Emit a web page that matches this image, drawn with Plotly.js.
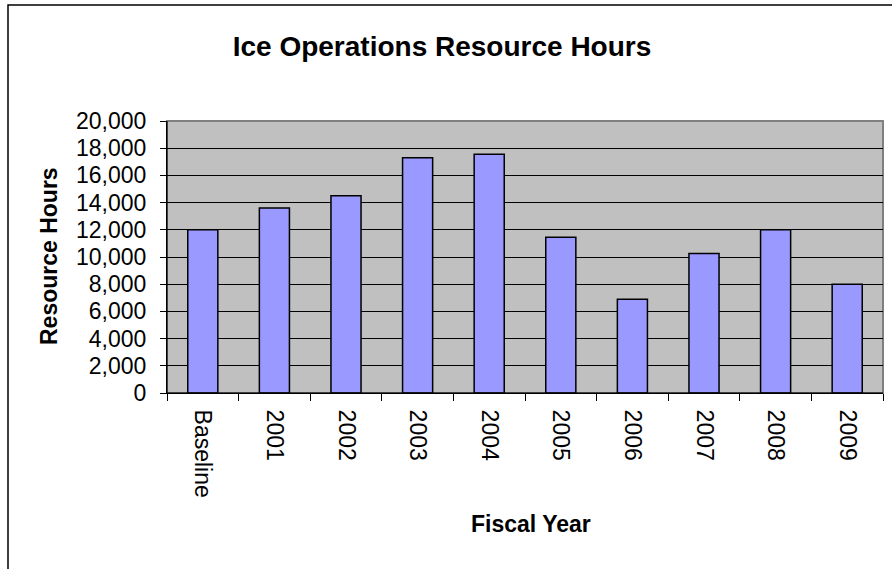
<!DOCTYPE html>
<html>
<head>
<meta charset="utf-8">
<script src="https://cdn.plot.ly/plotly-3.0.1.min.js"></script>
<style>html,body{margin:0;padding:0;background:#fff;}#chart{width:892px;height:569px;}</style>
</head>
<body>
<div id="chart"></div>
<script>
const categories = ["Baseline","2001","2002","2003","2004","2005","2006","2007","2008","2009"];
const hours = [12000, 13600, 14500, 17300, 17550, 11450, 6900, 10250, 12000, 8000];
const yTickVals = [0,2000,4000,6000,8000,10000,12000,14000,16000,18000,20000];
const yTickText = ["0","2,000","4,000","6,000","8,000","10,000","12,000","14,000","16,000","18,000","20,000"];

const FONT = "Liberation Sans, Arial, sans-serif";

const trace = {
  type: "bar",
  x: categories,
  y: hours,
  marker: {color: "#9999FF", line: {color: "#000000", width: 1.5}},
  hoverinfo: "x+y"
};

const PW = 892 - 167 - 9, PH = 569 - 121 - 176;

const layout = {
  width: 892, height: 569,
  margin: {l: 167, r: 9, t: 121, b: 176, pad: 0},
  paper_bgcolor: "#FFFFFF",
  plot_bgcolor: "#C0C0C0",
  showlegend: false,
  bargap: 0.58,
  font: {family: FONT, color: "#000000"},
  title: {
    text: "<b>Ice Operations Resource Hours</b>",
    font: {family: FONT, size: 28, color: "#000"},
    x: 442 / 892, xref: "container", xanchor: "center",
    y: 1 - 46/569, yref: "container", yanchor: "middle"
  },
  xaxis: {
    type: "category",
    showgrid: false,
    showline: true, linecolor: "#000", linewidth: 1,
    ticks: "outside", ticklen: 7, tickcolor: "#000", tickwidth: 1,
    tickson: "boundaries",
    tickangle: 90,
    tickfont: {family: FONT, size: 23, color: "#000"},
    ticklabelstandoff: 11,
    zeroline: false,
    fixedrange: true
  },
  yaxis: {
    range: [0, 20000],
    tickvals: yTickVals,
    ticktext: yTickText,
    showgrid: true, gridcolor: "#000000", gridwidth: 1,
    showline: true, linecolor: "#000", linewidth: 1,
    ticks: "outside", ticklen: 6, tickcolor: "#000", tickwidth: 1,
    tickfont: {family: FONT, size: 23, color: "#000"},
    ticklabelstandoff: 9,
    zeroline: false,
    fixedrange: true
  },
  shapes: [
    {type: "rect", xref: "paper", yref: "paper", x0: 0, x1: 1, y0: 0, y1: 1,
     line: {color: "#808080", width: 2}, fillcolor: "rgba(0,0,0,0)", layer: "below"},
    {type: "line", xref: "paper", yref: "paper", x0: 0, x1: 0, y0: 0, y1: 1,
     line: {color: "#000", width: 1}},
    {type: "line", xref: "paper", yref: "paper", x0: 0, x1: 1, y0: 0, y1: 0,
     line: {color: "#000", width: 1}},
    {type: "rect", xref: "paper", yref: "paper",
     x0: (8 - 167) / PW, x1: 1.2,
     y0: -0.9, y1: 1 + (121 - 5) / PH,
     line: {color: "#000", width: 1.5}, fillcolor: "rgba(0,0,0,0)", layer: "below"}
  ],
  annotations: [
    {text: "<b>Resource Hours</b>", xref: "paper", yref: "paper",
     x: (49 - 167) / PW, y: 1 - (256 - 121) / PH,
     xanchor: "center", yanchor: "middle", textangle: -90, showarrow: false,
     font: {family: FONT, size: 23, color: "#000"}},
    {text: "<b>Fiscal Year</b>", xref: "paper", yref: "paper",
     x: (531 - 167) / PW, y: -(524 - 393) / PH,
     xanchor: "center", yanchor: "middle", showarrow: false,
     font: {family: FONT, size: 23, color: "#000"}}
  ]
};

Plotly.newPlot("chart", [trace], layout, {displayModeBar: false, staticPlot: true});
</script>
</body>
</html>
